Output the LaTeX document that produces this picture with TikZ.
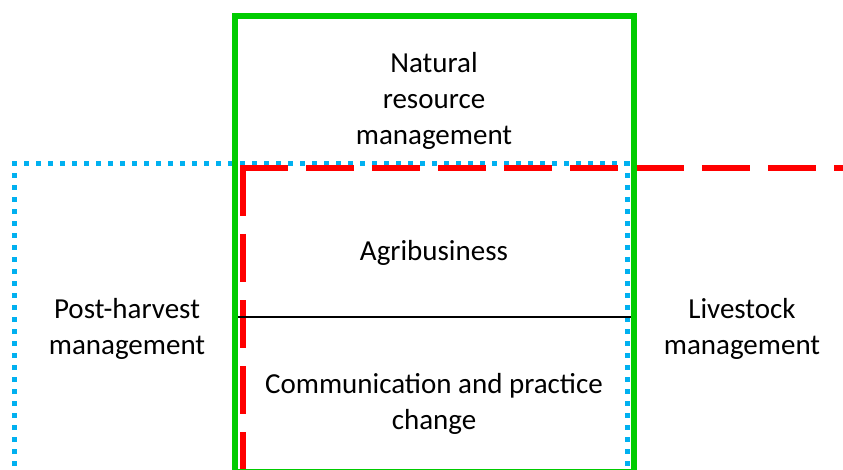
\documentclass[tikz,border=0pt]{standalone}
\usepackage{fontspec}
\setmainfont{Carlito}
\definecolor{grn}{RGB}{0,204,0}
\definecolor{rd}{RGB}{255,0,0}
\definecolor{bl}{RGB}{0,176,240}
\begin{document}
\begin{tikzpicture}[x=1pt,y=-1pt,
  lbl/.style={align=center,font=\fontsize{29}{36}\selectfont,inner sep=0pt},
  grnbox/.style={draw=grn,line width=6pt},
  bldot/.style={draw=bl,line width=5pt,dash pattern=on 5pt off 7pt},
  rddash/.style={draw=rd,line width=6pt,dash pattern=on 48pt off 18pt}]
\useasboundingbox (0,0) rectangle (843,470);
\begin{scope}
\clip (0,0) rectangle (843,470);
% blue dotted
\draw[bldot] (14,490) -- (14,164) -- (627,164) -- (627,490);
% red dashed
\coordinate (rc) at (243,168);
\draw[rddash] ([xshift=-3pt]rc) -- (860,168);
\draw[rddash] (rc) -- (243,520);
% green rectangle
\draw[grnbox] (235,16) rectangle (634,472);
% divider
\coordinate (dl) at (238,317);
\coordinate (dr) at (631,317);
\draw[line width=2pt] (dl) -- (dr);
\end{scope}
\node[lbl] (nrm) at (434,101) {Natural\\resource\\management};
\node[lbl] (agri) at (434,253) {Agribusiness};
\node[lbl] (post) at (127,329) {Post-harvest\\management};
\node[lbl] (live) at (742,329) {Livestock\\management};
\node[lbl] (comm) at (434,404) {Communication and practice\\change};
\end{tikzpicture}
\end{document}
